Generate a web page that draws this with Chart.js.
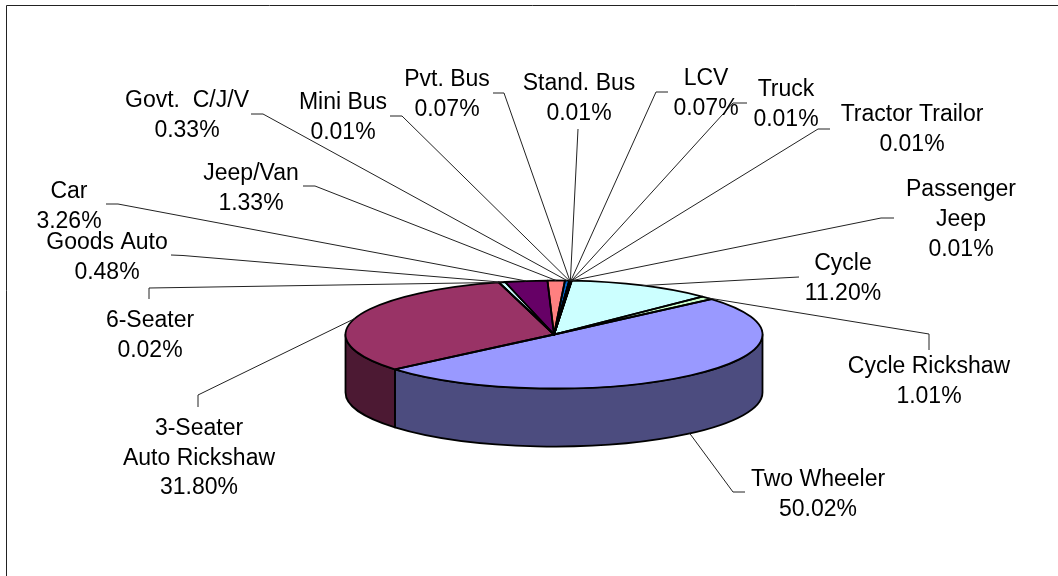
<!DOCTYPE html>
<html><head><meta charset="utf-8">
<style>html,body{margin:0;padding:0;background:#fff}canvas{display:block}</style>
<script src="https://cdn.jsdelivr.net/npm/chart.js@4"></script>
</head><body>
<canvas id="c" width="1058" height="576"></canvas>
<script>
const categories = ["Two Wheeler","3-Seater Auto Rickshaw","6-Seater","Goods Auto","Car","Jeep/Van","Govt.  C/J/V","Mini Bus","Pvt. Bus","Stand. Bus","LCV","Truck","Tractor Trailor","Passenger Jeep","Cycle","Cycle Rickshaw"];
const shares = [50.02,31.80,0.02,0.48,3.26,1.33,0.33,0.01,0.07,0.01,0.07,0.01,0.01,0.01,11.20,1.01];
const shareLabels = ["50.02%","31.80%","0.02%","0.48%","3.26%","1.33%","0.33%","0.01%","0.07%","0.01%","0.07%","0.01%","0.01%","0.01%","11.20%","1.01%"];
const colors = ["#9999FF","#993366","#FFFFCC","#CCFFFF","#660066","#FF8080","#0066CC","#CCCCFF","#000080","#FF00FF","#FFFF00","#00FFFF","#800080","#800000","#CCFFFF","#CCFFCC"];

// label layout: text lines, centre x, first-line centre y, leader elbow points
const labelLayout = [
 {t:["Two Wheeler"],x:818,y:479.5,l:[[745,492],[733,492]]},
 {t:["3-Seater","Auto Rickshaw"],x:199,y:428.5,l:[[198,407],[198,395]]},
 {t:["6-Seater"],x:150,y:320.5,l:[[149,299],[149,288]]},
 {t:["Goods Auto"],x:107,y:242.5,l:[[171,255],[183,255.5]]},
 {t:["Car"],x:69,y:191.5,l:[[106,204],[118,204]]},
 {t:["Jeep/Van"],x:251,y:173.5,l:[[303,186],[315,186]]},
 {t:["Govt.  C/J/V"],x:187,y:100.5,l:[[251,114],[263,114]]},
 {t:["Mini Bus"],x:343,y:102.5,l:[[390,116],[402,116]]},
 {t:["Pvt. Bus"],x:447,y:79.5,l:[[493,93],[504,93]]},
 {t:["Stand. Bus"],x:579,y:83.5,l:[[578,129]]},
 {t:["LCV"],x:706,y:78.5,l:[[668,92],[656,92]]},
 {t:["Truck"],x:786,y:89.5,l:[[747,103],[733,103]]},
 {t:["Tractor Trailor"],x:912,y:114.5,l:[[830,129],[818,129]]},
 {t:["Passenger","Jeep"],x:961,y:190,l:[[894,218],[881,218]]},
 {t:["Cycle"],x:843,y:263.5,l:[[799,277],[780,278]]},
 {t:["Cycle Rickshaw"],x:929,y:366.5,l:[[929,350],[929,334]]}
];
const squash = 0.259, depth = 58, LINE = 29.8;

function darker(hex){
  const n=parseInt(hex.slice(1),16);
  return `rgb(${(n>>16)/2|0},${((n>>8)&255)/2|0},${(n&255)/2|0})`;
}
const pie3d = {
  id:'pie3d',
  beforeDraw(chart){
    const {ctx}=chart;
    ctx.save();ctx.fillStyle='#fff';ctx.fillRect(0,0,1058,576);
    ctx.strokeStyle='#222';ctx.lineWidth=1;ctx.beginPath();
    ctx.moveTo(6.5,576);ctx.lineTo(6.5,5.5);ctx.lineTo(1058,5.5);ctx.stroke();ctx.restore();
  },
  beforeDatasetsDraw(chart){
    const {ctx}=chart, arcs=chart.getDatasetMeta(0).data;
    ctx.save();
    ctx.lineWidth=1.8;ctx.strokeStyle='#000';ctx.lineJoin='round';
    arcs.forEach((arc,i)=>{
      const p=arc.getProps(['x','y','startAngle','endAngle','outerRadius']);
      const tau=2*Math.PI;
      [[0,Math.PI],[tau,tau+Math.PI]].forEach(([lo,hi])=>{
        const a=Math.max(p.startAngle,lo), b=Math.min(p.endAngle,hi);
        if(b<=a) return;
        const r=p.outerRadius, ry=r*squash;
        ctx.beginPath();
        ctx.ellipse(p.x,p.y,r,ry,0,a,b);
        ctx.ellipse(p.x,p.y+depth,r,ry,0,b,a,true);
        ctx.closePath();
        ctx.fillStyle=darker(colors[i]);ctx.fill();ctx.stroke();
      });
    });
    ctx.restore();
    const a0=arcs[0];
    ctx.save();
    ctx.translate(0,a0.y);ctx.scale(1,squash);ctx.translate(0,-a0.y);
  },
  afterDatasetsDraw(chart){
    const {ctx}=chart, arcs=chart.getDatasetMeta(0).data;
    ctx.restore();
    ctx.save();
    // slice outlines at uniform width
    ctx.strokeStyle='#000';ctx.lineWidth=1.8;ctx.lineJoin='round';
    arcs.forEach(arc=>{
      const p=arc.getProps(['x','y','startAngle','endAngle','outerRadius']);
      ctx.beginPath();ctx.moveTo(p.x,p.y);
      ctx.ellipse(p.x,p.y,p.outerRadius,p.outerRadius*squash,0,p.startAngle,p.endAngle);
      ctx.closePath();ctx.stroke();
    });
    // leaders
    ctx.lineWidth=1;ctx.strokeStyle='#222';
    arcs.forEach((arc,i)=>{
      const p=arc.getProps(['x','y','startAngle','endAngle','outerRadius']);
      const m=(p.startAngle+p.endAngle)/2;
      let tx=p.x+p.outerRadius*Math.cos(m), ty=p.y+p.outerRadius*squash*Math.sin(m);
      if(Math.sin(m)>0) ty+=depth;
      const L=labelLayout[i];
      ctx.beginPath();ctx.moveTo(L.l[0][0],L.l[0][1]);
      L.l.slice(1).forEach(q=>ctx.lineTo(q[0],q[1]));
      ctx.lineTo(tx,ty);ctx.stroke();
    });
    // labels
    ctx.fillStyle='#000';ctx.font='23px "Liberation Sans", Arial, sans-serif';
    ctx.textAlign='center';ctx.textBaseline='middle';
    arcs.forEach((arc,i)=>{
      const L=labelLayout[i];
      [...L.t,shareLabels[i]].forEach((s,j)=>ctx.fillText(s,L.x,L.y+j*LINE));
    });
    ctx.restore();
  }
};
new Chart(document.getElementById('c'),{
  type:'pie',
  data:{labels:categories,datasets:[{data:shares,backgroundColor:colors,borderWidth:0}]},
  options:{
    responsive:false,animation:false,rotation:49,
    layout:{padding:{left:345,right:295,top:126,bottom:33}},
    plugins:{legend:{display:false},tooltip:{enabled:false},title:{display:false}}
  },
  plugins:[pie3d]
});
</script>
</body></html>
